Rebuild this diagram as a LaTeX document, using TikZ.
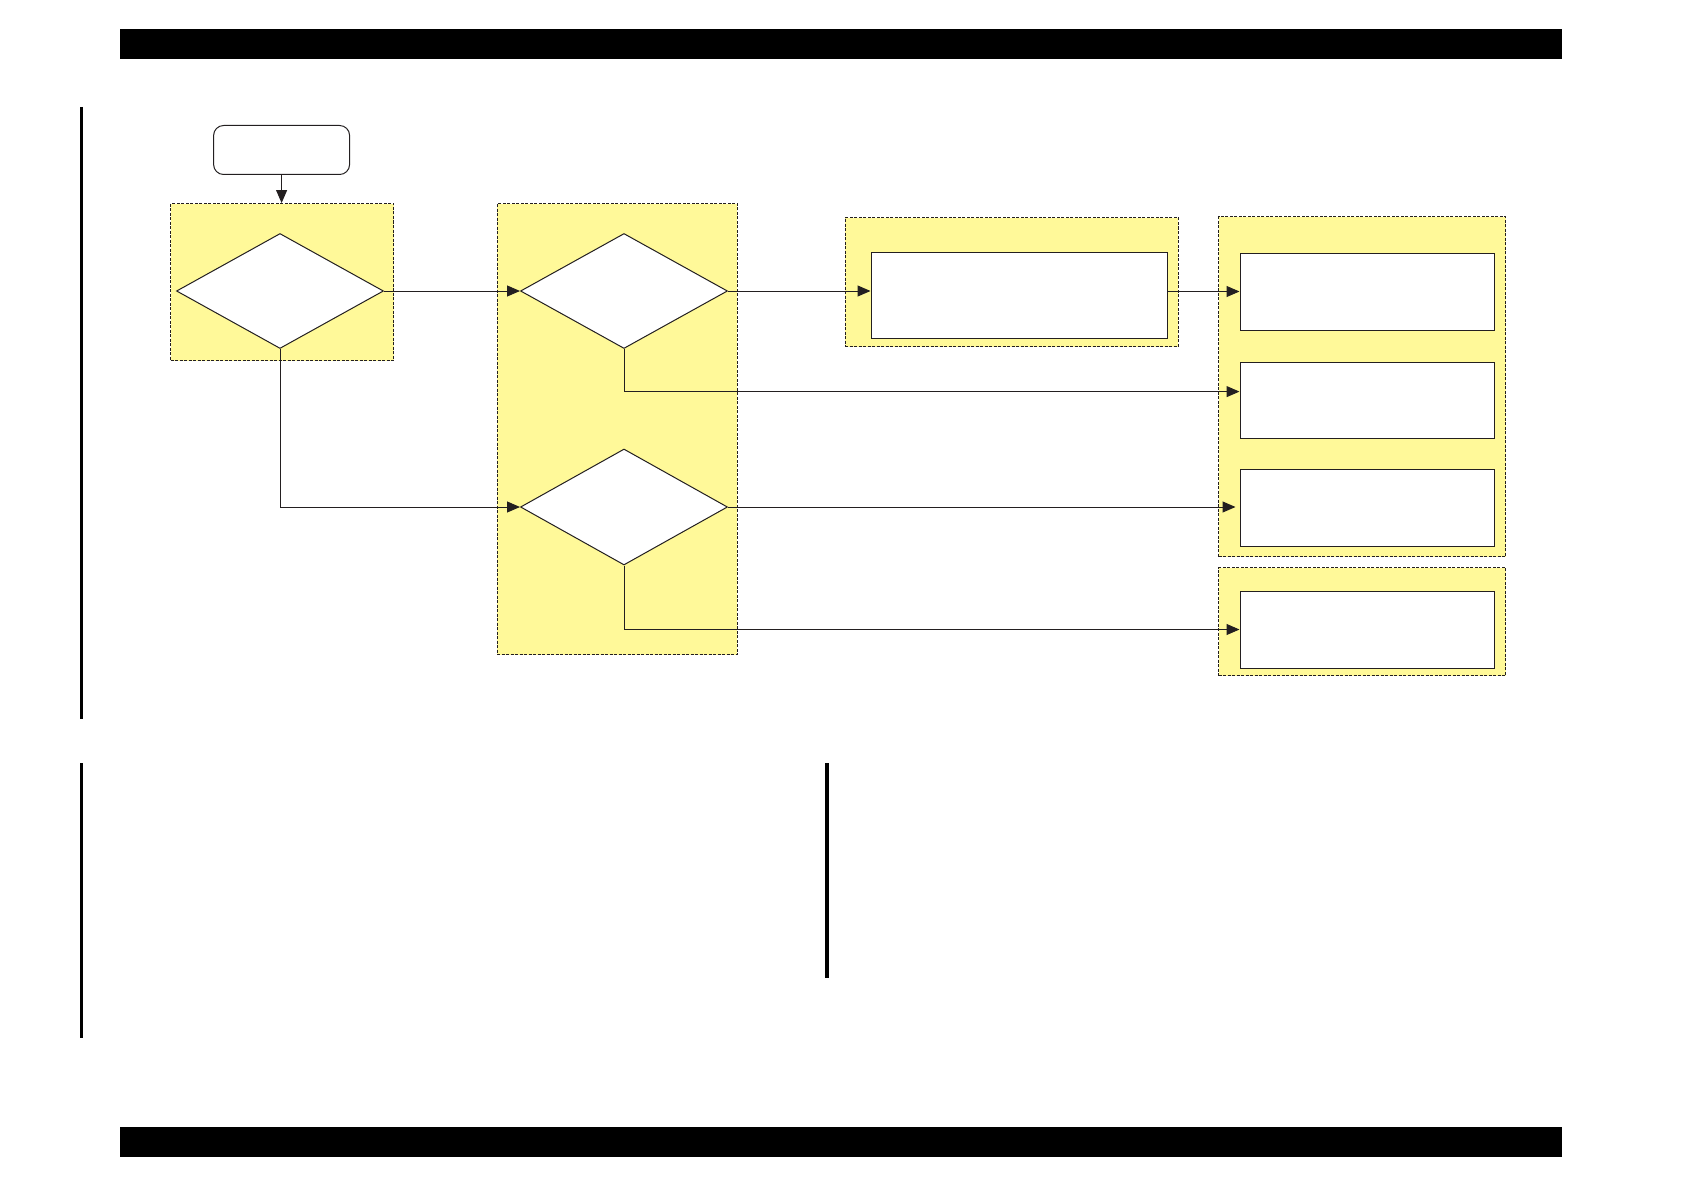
\documentclass[tikz,border=0pt]{standalone}
\usepackage{tikz}
\usetikzlibrary{arrows.meta,shapes.geometric}
\definecolor{grpyellow}{RGB}{255,249,153}
\definecolor{lineblack}{RGB}{35,31,32}

\begin{document}
\begin{tikzpicture}[x=1pt,y=-1pt,>={Triangle[length=13pt,width=11pt]},
  line width=1pt, draw=lineblack,
  group/.style={draw=lineblack, fill=grpyellow, dash pattern=on 3pt off 1.5pt,
                line width=0.9pt, inner sep=0pt},
  decision/.style={diamond, draw=lineblack, fill=white, inner sep=0pt,
                   minimum width=207pt, minimum height=115pt},
  stepbox/.style={draw=lineblack, fill=white, inner sep=0pt,
                  minimum width=254pt, minimum height=77pt},
  bar/.style={line width=3.5pt, draw=black}]
\useasboundingbox (0,0) rectangle (1682,1188);

% page frame
\fill[black] (120,29) rectangle (1562,59);
\fill[black] (120,1127) rectangle (1562,1157);
\draw[bar] (81.5,107) -- (81.5,719);
\draw[bar] (81.5,763) -- (81.5,1038);
\draw[bar] (827,763) -- (827,978);

% groups
\node[group, minimum width=223pt, minimum height=157pt] (grpA) at (282,282) {};
\node[group, minimum width=240pt, minimum height=451pt] (grpB) at (617,429) {};
\node[group, minimum width=333pt, minimum height=129pt] (grpC) at (1011.5,282) {};
\node[group, minimum width=287pt, minimum height=340pt] (grpD) at (1362,386.7) {};
\node[group, minimum width=287pt, minimum height=108pt] (grpE) at (1362,621.6) {};

% flow
\node[draw=lineblack, rounded corners=10pt, fill=white,
      minimum width=136pt, minimum height=49pt] (start) at (281.6,150) {};
\node[decision] (chkA) at (280,291) {};
\node[decision] (chkB) at (624,291) {};
\node[decision, minimum height=116pt] (chkC) at (624,507) {};
\node[stepbox, minimum width=296pt, minimum height=86pt] (procC) at (1019,295) {};
\node[stepbox] (resD1) at (1367,291.5) {};
\node[stepbox, minimum height=76pt] (resD2) at (1367,400.6) {};
\node[stepbox] (resD3) at (1367,508.4) {};
\node[stepbox] (resE) at (1367,629.5) {};

\draw[->] (start) -- (start |- grpA.north);
\draw[->] (chkA.east) -- (chkB.west);
\draw[->] (chkB.east) -- (chkB.east -| procC.west);
\draw[->] (procC.east |- resD1.west) -- (resD1.west);
\draw[->] (chkB.south) |- ([yshift=9pt]resD2.west);
\draw[->] (chkA.south) |- (chkC.west);
\draw[->, shorten >=4pt] (chkC.east) -- (chkC.east -| resD3.west);
\draw[->] (chkC.south) |- (resE.west);
\end{tikzpicture}
\end{document}
